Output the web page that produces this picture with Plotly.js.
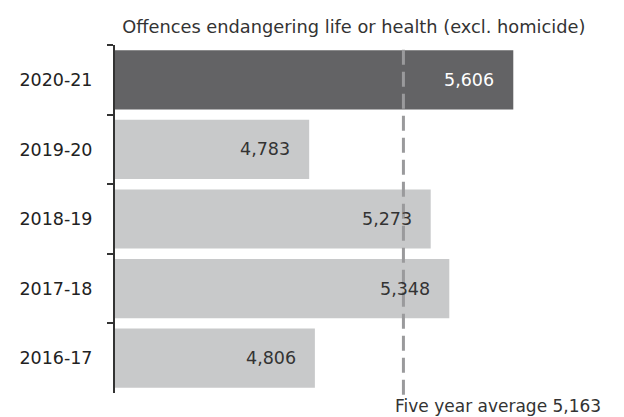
<!DOCTYPE html>
<html>
<head>
<meta charset="utf-8">
<script src="https://cdn.plot.ly/plotly-3.0.1.min.js"></script>
<style>html,body{margin:0;padding:0;background:#fff;}#chart{width:624px;height:417px;}</style>
</head>
<body>
<div id="chart"></div>
<script>
const categories = ["2020-21", "2019-20", "2018-19", "2017-18", "2016-17"];
const values = [5606, 4783, 5273, 5348, 4806];
const barColors = ["#636365", "#c8c9ca", "#c8c9ca", "#c8c9ca", "#c8c9ca"];
const labelColors = ["#ffffff", "#333333", "#333333", "#333333", "#333333"];
const average = 5163;
const chartTitle = "Offences endangering life or health (excl. homicide)";
const averageLabel = "Five year average 5,163";

const FONT = "DejaVu Sans, sans-serif";
const fmt = v => v.toLocaleString("en-US");

const trace = {
  type: "bar",
  orientation: "h",
  y: categories,
  x: values,
  marker: {color: barColors, line: {width: 0}},
  hoverinfo: "none",
  width: 0.85
};

const annotations = categories.map((c, i) => ({
  x: values[i], y: c, xref: "x", yref: "y",
  text: fmt(values[i]), showarrow: false,
  xanchor: "right", xshift: -17,
  font: {family: FONT, size: 17.5, color: labelColors[i]}
}));
annotations.push({
  x: average, y: 0, xref: "x", yref: "paper",
  text: averageLabel, showarrow: false,
  xanchor: "left", yanchor: "middle", xshift: -10, yshift: -13,
  font: {family: FONT, size: 17, color: "#333333"}
});

const layout = {
  width: 624, height: 417,
  margin: {l: 115, r: 13, t: 45, b: 24},
  paper_bgcolor: "#ffffff", plot_bgcolor: "#ffffff",
  showlegend: false,
  title: {text: chartTitle, x: 0.567, xanchor: "center", y: 0.935, yanchor: "middle",
          font: {family: FONT, size: 17.8, color: "#333333"}},
  xaxis: {range: [4000, 6000], visible: false, fixedrange: true},
  yaxis: {
    type: "category", categoryorder: "array", categoryarray: categories,
    autorange: "reversed", tickson: "boundaries",
    showline: true, linecolor: "#333333", linewidth: 2,
    ticks: "outside", ticklen: 6, tickwidth: 2, tickcolor: "#333333",
    showgrid: false, zeroline: false, ticklabelstandoff: 17,
    tickfont: {family: FONT, size: 17.5, color: "#222222"}
  },
  shapes: [{
    type: "line", xref: "x", yref: "paper",
    x0: average, x1: average, y0: -0.005, y1: 1,
    line: {color: "#9a9a9c", width: 3, dash: "15px,7px"}, layer: "above"
  }],
  annotations: annotations
};

Plotly.newPlot("chart", [trace], layout, {staticPlot: true, displayModeBar: false});
</script>
</body>
</html>
